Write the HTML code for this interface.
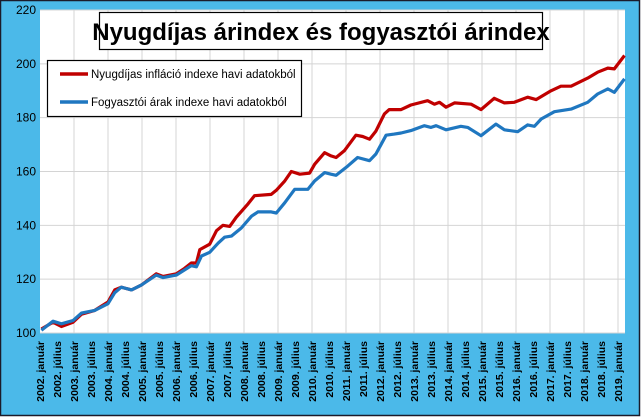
<!DOCTYPE html>
<html><head><meta charset="utf-8"><style>
html,body{margin:0;padding:0;background:#fff}
svg{display:block}
text{font-family:"Liberation Sans",sans-serif}
</style></head><body>
<svg id="chart" width="641" height="417" xmlns="http://www.w3.org/2000/svg">
<rect x="0.5" y="0.5" width="639" height="415" fill="#4bb9e9" stroke="#1b1b2a" stroke-width="1.5"/>
<rect x="40" y="10" width="585" height="323" fill="#ffffff"/>
<g id="grid"></g>
<g id="yticks"></g>
<g id="xticks"></g>
<g id="series"></g>
<g>
<rect x="99.5" y="12.5" width="443" height="37" fill="#fff" stroke="#000" stroke-width="1.2"/>
<text x="321" y="40" text-anchor="middle" font-size="24" font-weight="bold" fill="#000">Nyugdíjas árindex és fogyasztói árindex</text>
</g>
<g>
<rect x="47.5" y="60.5" width="254" height="56" fill="#fff" stroke="#000" stroke-width="1.2"/>
<g>
<line x1="60" y1="74" x2="88" y2="74" stroke="#c00000" stroke-width="3.5"/>
<text x="91" y="78" font-size="11.5" fill="#000">Nyugdíjas infláció indexe havi adatokból</text>
</g>
<g>
<line x1="60" y1="102" x2="88" y2="102" stroke="#1f77c0" stroke-width="3.5"/>
<text x="91" y="106" font-size="11.5" fill="#000">Fogyasztói árak indexe havi adatokból</text>
</g>
</g>
</svg>
<script>
const yTicks=[100,120,140,160,180,200,220];
const xLabels=["2002. január","2002. július","2003. január","2003. július","2004. január","2004. július","2005. január","2005. július","2006. január","2006. július","2007. január","2007. július","2008. január","2008. július","2009. január","2009. július","2010. január","2010. július","2011. január","2011. július","2012. január","2012. július","2013. január","2013. július","2014. január","2014. július","2015. január","2015. július","2016. január","2016. július","2017. január","2017. július","2018. január","2018. július","2019. január"];
const redX=[2002.04,2002.38,2002.63,2002.97,2003.22,2003.61,2004.0,2004.2,2004.39,2004.69,2004.98,2005.42,2005.62,2006.01,2006.25,2006.45,2006.6,2006.7,2006.99,2007.19,2007.38,2007.58,2007.77,2008.12,2008.31,2008.8,2008.95,2009.2,2009.39,2009.64,2009.93,2010.08,2010.37,2010.56,2010.71,2010.95,2011.29,2011.49,2011.69,2011.88,2012.13,2012.27,2012.62,2012.91,2013.4,2013.6,2013.75,2013.94,2014.19,2014.68,2014.97,2015.36,2015.66,2015.95,2016.34,2016.59,2017.03,2017.32,2017.62,2018.11,2018.4,2018.7,2018.89,2019.19];
const redV=[101.5,104,102.4,104,107,108.4,111.5,116,117,116,117.8,122,121,122,124,126,126,131,133,138,140,139.6,143,148,151,151.5,153,156.5,160,159,159.4,162.7,167,165.8,165.2,167.7,173.5,173,172,175,181.4,183,183,184.7,186.3,185,185.7,183.9,185.5,185,183,187.2,185.5,185.7,187.6,186.7,190,191.7,191.7,194.7,196.9,198.4,198.1,203.1];
const blueX=[2002.04,2002.38,2002.63,2002.97,2003.22,2003.61,2004.0,2004.2,2004.39,2004.69,2004.98,2005.42,2005.62,2006.01,2006.45,2006.6,2006.75,2006.99,2007.24,2007.43,2007.63,2007.92,2008.22,2008.41,2008.8,2008.95,2009.2,2009.49,2009.88,2010.08,2010.37,2010.56,2010.71,2011.05,2011.34,2011.69,2011.88,2012.18,2012.42,2012.62,2012.91,2013.3,2013.5,2013.65,2013.94,2014.38,2014.58,2014.97,2015.41,2015.66,2016.05,2016.34,2016.54,2016.74,2017.13,2017.62,2018.11,2018.4,2018.7,2018.89,2019.19];
const blueV=[101,104.4,103.4,104.6,107.4,108.4,110.9,115,117,116,117.8,121.5,120.6,121.5,125,124.6,128.6,130,133.4,135.6,136,139,143.4,145,145,144.6,148.4,153.4,153.4,156.5,159.6,159,158.6,162,165.2,164,166.5,173.5,173.9,174.3,175.2,177,176.4,177,175.5,176.8,176.4,173.3,177.6,175.5,174.8,177.3,176.8,179.5,182.2,183.2,185.7,188.8,190.7,189.4,194.4];
const NS="http://www.w3.org/2000/svg";
const x0=40,x1=625,y0=333,y1=10,pxYear=34;
function xs(t){return x0+(t-2002)*pxYear;}
function ys(v){return y0-(v-100)*(y0-y1)/120;}
function mk(tag,attrs,parent){const e=document.createElementNS(NS,tag);for(const k in attrs)e.setAttribute(k,attrs[k]);parent.appendChild(e);return e;}
const grid=document.getElementById('grid'),yt=document.getElementById('yticks'),xt=document.getElementById('xticks'),ser=document.getElementById('series');
yTicks.forEach(v=>{
  const l=mk('line',{x1:x0,x2:x1,y1:ys(v),y2:ys(v),stroke:'#d4d4d4','stroke-width':1},grid);
  
  
  const t=mk('text',{x:36,y:ys(v)+4,'text-anchor':'end','font-size':12,fill:'#000'},yt);
  t.textContent=v;
  
  
});
for(let yr=2003;yr<=2019;yr++){
  const l=mk('line',{x1:xs(yr),x2:xs(yr),y1:y1,y2:y0,stroke:'#d4d4d4','stroke-width':1},grid);
  
  
}
xLabels.forEach((s,i)=>{
  const x=xs(2002+i*0.5)+4;
  const t=mk('text',{x:x,y:341,'text-anchor':'end','font-size':10.5,'font-weight':'bold',fill:'#000',transform:`rotate(-90 ${x} 341)`},xt);
  t.textContent=s;
  
  
});
function line(X,V,color,name){
  const d=X.map((t,i)=>(i?'L':'M')+xs(t).toFixed(1)+','+ys(V[i]).toFixed(1)).join(' ');
  const p=mk('path',{d:d,fill:'none',stroke:color,'stroke-width':3.2,'stroke-linejoin':'round'},ser);
  
  
}
line(redX,redV,'#c00000','pension-index-line');
line(blueX,blueV,'#1f77c0','cpi-index-line');
</script>
</body></html>
